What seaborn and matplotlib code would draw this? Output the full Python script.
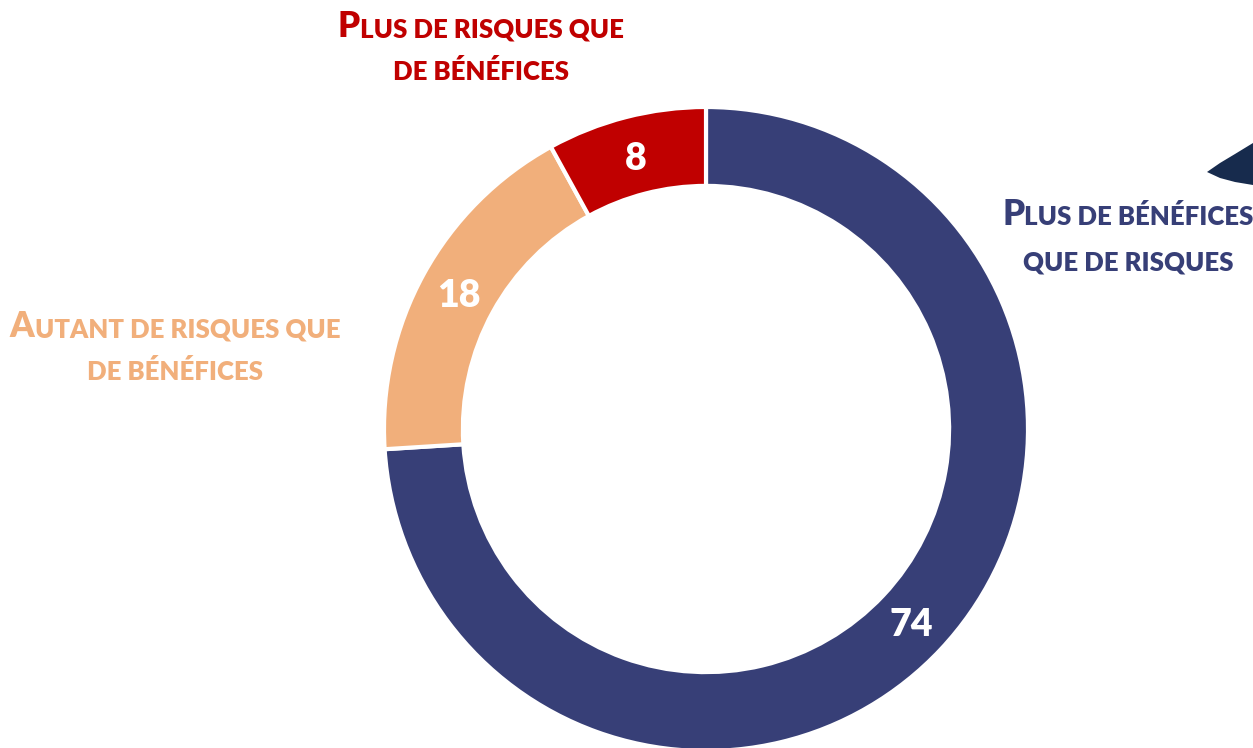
import matplotlib
matplotlib.use("Agg")
import matplotlib.pyplot as plt
import seaborn as sns
from matplotlib.patches import Polygon

sns.set_style("white")
plt.rcParams['font.family'] = ['Lato', 'DejaVu Sans']

# données
categories = ["Plus de bénéfices\nque de risques",
              "Autant de risques que\nde bénéfices",
              "Plus de risques que\nde bénéfices"]
valeurs = [74, 18, 8]
couleurs = ["#373F77", "#F1AF7B", "#C00000"]

W, H = 1253, 748
fig = plt.figure(figsize=(W / 100, H / 100), dpi=100)
ax = fig.add_axes([0, 0, 1, 1])
ax.set_xlim(0, W)
ax.set_ylim(0, H)
ax.axis("off")

cx, cy, R = 706, H - 429, 322
wedges, _, nums = ax.pie(valeurs, colors=couleurs, startangle=90, counterclock=False,
                         center=(cx, cy), radius=R, autopct=lambda p: f"{p:.0f}",
                         pctdistance=0.875,
                         wedgeprops=dict(width=R * 0.245, edgecolor="white", linewidth=3),
                         textprops=dict(color="white", fontsize=27, fontweight="heavy"))
for t in nums:
    t.set_va("center_baseline")
ax.set_xlim(0, W)
ax.set_ylim(0, H)
ax.set_aspect("equal")

renderer = fig.canvas.get_renderer()


def petites_capitales(x, y, texte, couleur, grand=25, petit=18.5):
    # une ligne en petites capitales, centrée sur x, ligne de base en y
    morceaux = []
    courant = ""
    maj = None
    for c in texte:
        m = c.isupper()
        if maj is None or m == maj or c == " ":
            courant += c
            if maj is None:
                maj = m
        else:
            morceaux.append((courant, maj))
            courant, maj = c, m
    morceaux.append((courant, maj))
    objets = []
    total = 0
    for s, m in morceaux:
        t = ax.text(0, y, s.upper(), fontsize=grand if m else petit, fontweight="heavy",
                    color=couleur, ha="left", va="baseline")
        w = t.get_window_extent(renderer).width
        objets.append((t, w))
        total += w
    x0 = x - total / 2
    for t, w in objets:
        t.set_position((x0, y))
        x0 += w


positions = [(1128, 225, 270), (175, 337, 380), (481, 37, 80)]
for cat, coul, (px, b1, b2) in zip(categories, couleurs, positions):
    l1, l2 = cat.split("\n")
    petites_capitales(px, H - b1, l1, coul)
    petites_capitales(px, H - b2, l2, coul)

# forme décorative en haut à droite
pts = [(1207, 172), (1220, 163), (1235, 154), (1253, 143), (1253, 185), (1235, 182), (1220, 178)]
ax.add_patch(Polygon([(a, H - b) for a, b in pts], closed=True, color="#172B4D", lw=0))

fig.savefig("out.png", dpi=100)
